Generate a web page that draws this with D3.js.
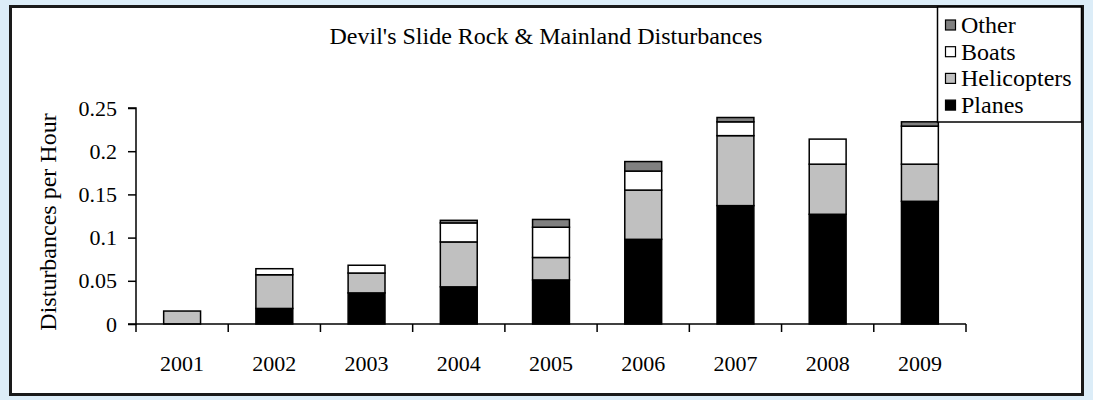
<!DOCTYPE html>
<head>
  <meta charset="utf-8">
  <title>Devil's Slide Rock & Mainland Disturbances</title>
  <style>
    body { margin: 0; background: #dcedf8; }
    svg text { font-family: "Liberation Serif", "Times New Roman", serif !important; fill: #000; }
  </style>
</head>
<body>
<script src="https://d3js.org/d3.v7.min.js"></script>
<script>
// Data
var years = ["2001", "2002", "2003", "2004", "2005", "2006", "2007", "2008", "2009"];
var planes      = [0,     0.018, 0.036, 0.043, 0.051, 0.098, 0.137, 0.127, 0.142];
var helicopters = [0.015, 0.039, 0.023, 0.052, 0.026, 0.057, 0.081, 0.058, 0.043];
var boats       = [0,     0.007, 0.009, 0.022, 0.035, 0.022, 0.016, 0.029, 0.044];
var other       = [0,     0,     0,     0.003, 0.009, 0.011, 0.005, 0,     0.005];
var yTicks = [0, 0.05, 0.1, 0.15, 0.2, 0.25];

var series = [
  {key: "Planes", values: planes, color: "#000000"},
  {key: "Helicopters", values: helicopters, color: "#c0c0c0"},
  {key: "Boats", values: boats, color: "#ffffff"},
  {key: "Other", values: other, color: "#808080"}
];

var W = 1093, H = 400;
var margin = {left: 136, right: 127, top: 108, bottom: 76};
var serif = "Liberation Serif, Times New Roman, serif";

var svg = d3.select("body").append("svg")
    .attr("width", W)
    .attr("height", H)
    .attr("font-family", serif);

// white chart panel with dark frame
svg.append("rect")
    .attr("x", 10.5).attr("y", 6.5)
    .attr("width", 1072).attr("height", 388)
    .attr("fill", "#fff")
    .attr("stroke", "#1a1a1a")
    .attr("stroke-width", 3);

var x = d3.scaleBand()
    .domain(years)
    .range([margin.left, W - margin.right])
    .paddingInner(0.6)
    .paddingOuter(0.3);

var y = d3.scaleLinear()
    .domain([0, 0.25])
    .range([324, 108]);

// stack the series
var rows = years.map(function(yr, i) {
  var r = {year: yr};
  series.forEach(function(s) { r[s.key] = s.values[i]; });
  return r;
});
var stack = d3.stack().keys(series.map(function(s) { return s.key; }));
var layers = stack(rows);

svg.append("g").selectAll("g")
    .data(layers)
  .enter().append("g")
    .attr("fill", function(d, i) { return series[i].color; })
  .selectAll("rect")
    .data(function(d) { return d.filter(function(p) { return p[1] - p[0] > 0; }); })
  .enter().append("rect")
    .attr("x", function(d) { return x(d.data.year); })
    .attr("width", x.bandwidth())
    .attr("y", function(d) { return y(d[1]); })
    .attr("height", function(d) { return y(d[0]) - y(d[1]); })
    .attr("stroke", "#000")
    .attr("stroke-width", 1.5);

// y axis
var yAxis = d3.axisLeft(y)
    .tickValues(yTicks)
    .tickSize(8)
    .tickPadding(11)
    .tickFormat(function(d) { return String(d); });

var gy = svg.append("g")
    .attr("transform", "translate(" + margin.left + ",0)")
    .call(yAxis)
    .attr("font-family", serif)
    .attr("font-size", 22);
gy.select(".domain").attr("stroke", "#000").attr("stroke-width", 1.5)
    .attr("d", "M-8," + y(0.25) + "H0V" + y(0) + "H-8");
gy.selectAll(".tick line").attr("stroke", "#000").attr("stroke-width", 1.5);
gy.selectAll(".tick text").attr("fill", "#000");

// x axis with ticks at band edges
var gx = svg.append("g")
    .attr("transform", "translate(0," + y(0) + ")")
    .attr("font-family", serif)
    .attr("font-size", 22);
gx.append("line")
    .attr("x1", margin.left).attr("x2", W - margin.right)
    .attr("stroke", "#000").attr("stroke-width", 1.5);
var edges = d3.range(years.length + 1).map(function(i) { return margin.left + i * (W - margin.right - margin.left) / years.length; });
gx.selectAll(".edge")
    .data(edges)
  .enter().append("line")
    .attr("x1", function(d) { return d; })
    .attr("x2", function(d) { return d; })
    .attr("y1", 0).attr("y2", 8)
    .attr("stroke", "#000").attr("stroke-width", 1.5);
gx.selectAll(".lab")
    .data(years)
  .enter().append("text")
    .attr("x", function(d) { return x(d) + x.bandwidth() / 2; })
    .attr("y", 47)
    .attr("text-anchor", "middle")
    .text(function(d) { return d; });

// title
svg.append("text")
    .attr("x", 546).attr("y", 44)
    .attr("text-anchor", "middle")
    .attr("font-size", 24)
    .text("Devil's Slide Rock & Mainland Disturbances");

// y label
svg.append("text")
    .attr("transform", "translate(56,222) rotate(-90)")
    .attr("text-anchor", "middle")
    .attr("font-size", 24)
    .text("Disturbances per Hour");

// legend
var legend = svg.append("g");
legend.append("rect")
    .attr("x", 937.5).attr("y", 7)
    .attr("width", 144).attr("height", 115)
    .attr("fill", "#fff")
    .attr("stroke", "#000")
    .attr("stroke-width", 1.5);
var items = series.slice().reverse();
var li = legend.selectAll(".item")
    .data(items)
  .enter().append("g")
    .attr("transform", function(d, i) { return "translate(945," + (25 + i * 26.7) + ")"; });
li.append("rect")
    .attr("x", 0.5).attr("y", -5)
    .attr("width", 10).attr("height", 10)
    .attr("fill", function(d) { return d.color; })
    .attr("stroke", "#000")
    .attr("stroke-width", 1.2);
li.append("text")
    .attr("x", 16).attr("y", 8)
    .attr("font-size", 24)
    .text(function(d) { return d.key; });
</script>
</body>
